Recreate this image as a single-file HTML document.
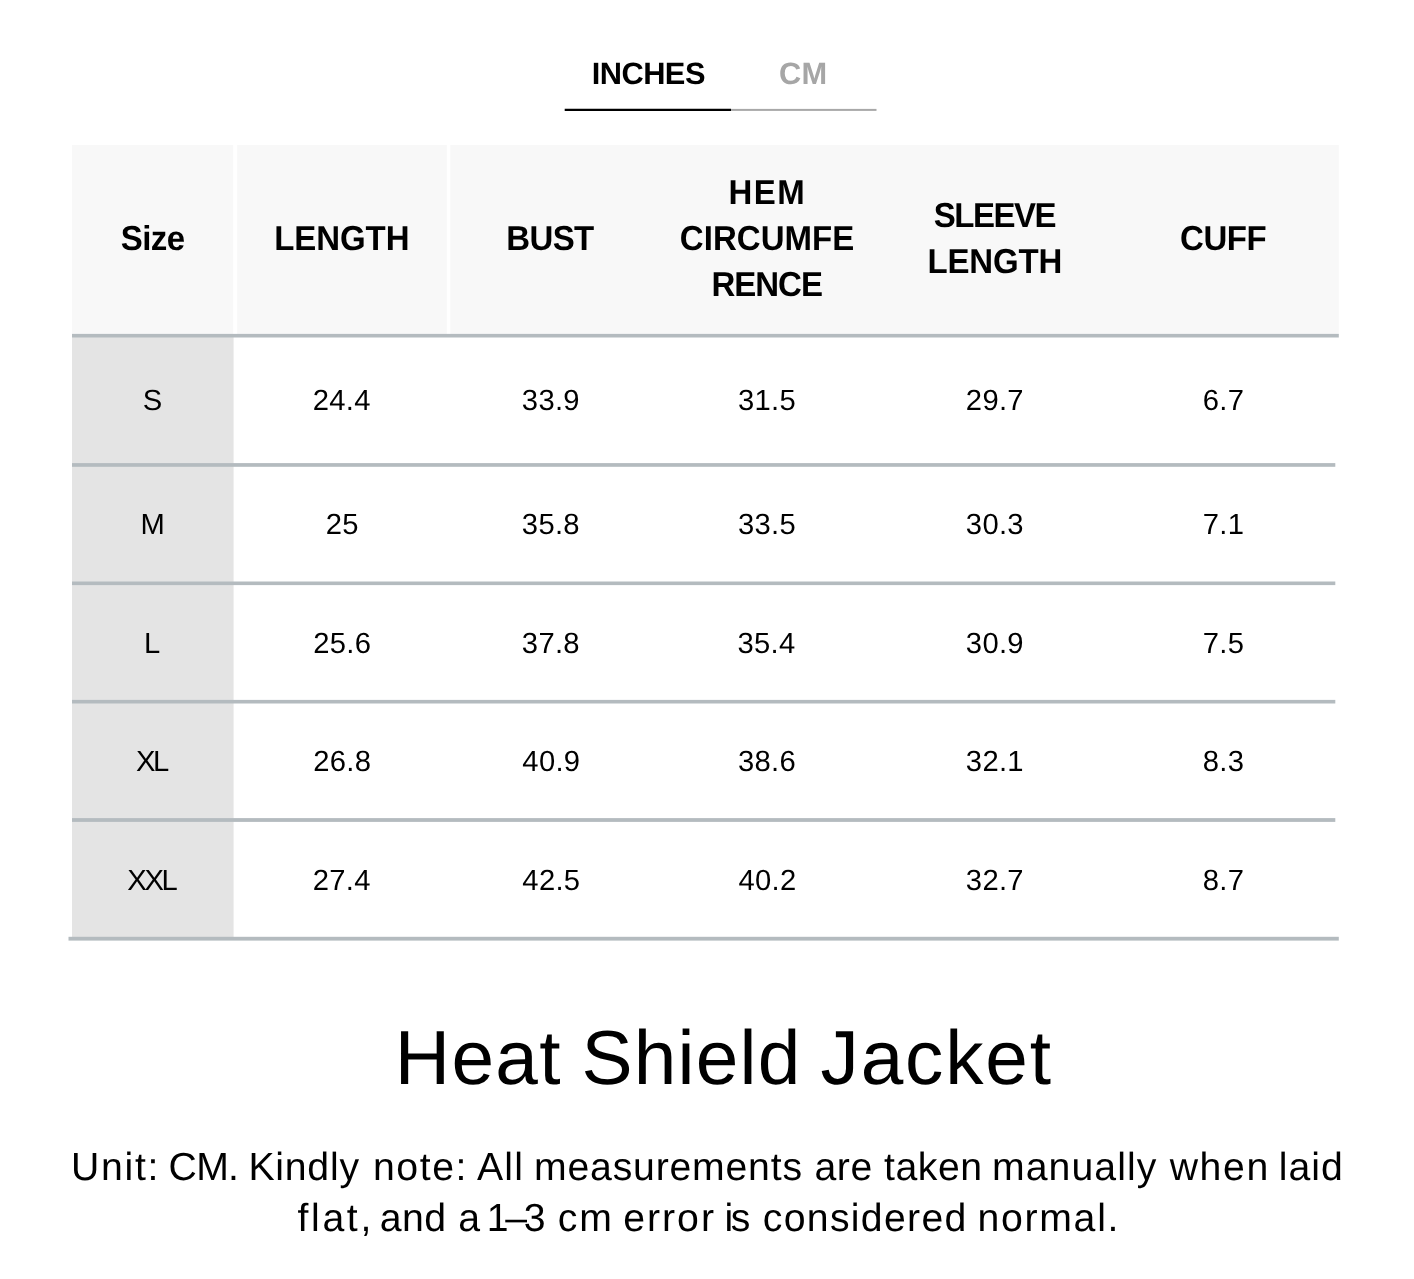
<!DOCTYPE html>
<html lang="en">
<head>
<meta charset="utf-8">
<title>Heat Shield Jacket – Size Chart</title>
<style>
html,body{margin:0;padding:0;background:#fff;}
h1,p{margin:0;padding:0;font:inherit;}
body{width:1414px;height:1279px;position:relative;overflow:hidden;font-family:"Liberation Sans",Arial,sans-serif;color:#000;}
.t{position:absolute;white-space:nowrap;line-height:1;font-weight:400;text-rendering:geometricPrecision;}
.b{font-weight:700;}
svg{position:absolute;left:0;top:0;}
</style>
</head>
<body>
<svg width="1414" height="1279" viewBox="0 0 1414 1279">
  <!-- tab underline -->
  <rect x="731" y="108.9" width="145.5" height="2" fill="#a8a8a8"/>
  <rect x="564.7" y="108.75" width="166.3" height="2.25" fill="#000"/>
  <!-- header background -->
  <rect x="72" y="145" width="1266.8" height="190" fill="#f8f8f8"/>
  <rect x="233.2" y="144" width="4" height="190" fill="#fff"/>
  <rect x="446.8" y="144" width="3.5" height="190" fill="#fff"/>
  <!-- size column -->
  <rect x="72" y="336" width="161.6" height="602" fill="#e4e4e4"/>
  <!-- rules -->
  <rect x="72" y="333.9" width="1266.8" height="3.6" fill="#b4bbbf"/>
  <rect x="72" y="463.1" width="1263.3" height="3.7" fill="#b4bbbf"/>
  <rect x="72" y="581.5" width="1263.3" height="3.6" fill="#b4bbbf"/>
  <rect x="72" y="699.9" width="1263.3" height="3.6" fill="#b4bbbf"/>
  <rect x="72" y="818.1" width="1263.3" height="3.8" fill="#b4bbbf"/>
  <rect x="68.5" y="936.8" width="1270.3" height="3.8" fill="#b4bbbf"/>
</svg>
<!-- unit tabs -->
<div class="tabs">
<div class="t b" style="left:591.70px;top:59px;font-size:30.8px;letter-spacing:-0.524px;">INCHES</div>
<div class="t b" style="left:779.00px;top:59px;font-size:30.8px;letter-spacing:0.359px;color:#a6a6a6;">CM</div>
</div>
<!-- table header -->
<div class="thead">
<div class="t b" style="left:120.80px;top:222px;font-size:33px;letter-spacing:-0.593px;transform:scaleY(1.048);transform-origin:0 28px;">Size</div>
<div class="t b" style="left:274.20px;top:222px;font-size:33px;letter-spacing:-0.065px;transform:scaleY(1.048);transform-origin:0 28px;">LENGTH</div>
<div class="t b" style="left:506.20px;top:222px;font-size:33px;letter-spacing:-0.591px;transform:scaleY(1.048);transform-origin:0 28px;">BUST</div>
<div class="t b" style="left:728.40px;top:176px;font-size:33px;letter-spacing:1.479px;transform:scaleY(1.048);transform-origin:0 28px;">HEM</div>
<div class="t b" style="left:679.80px;top:222px;font-size:33px;letter-spacing:0.051px;transform:scaleY(1.048);transform-origin:0 28px;">CIRCUMFE</div>
<div class="t b" style="left:711.50px;top:268px;font-size:33px;letter-spacing:-1.026px;transform:scaleY(1.048);transform-origin:0 28px;">RENCE</div>
<div class="t b" style="left:933.80px;top:199px;font-size:33px;letter-spacing:-1.480px;transform:scaleY(1.048);transform-origin:0 28px;">SLEEVE</div>
<div class="t b" style="left:927.40px;top:245px;font-size:33px;letter-spacing:-0.165px;transform:scaleY(1.048);transform-origin:0 28px;">LENGTH</div>
<div class="t b" style="left:1180.00px;top:222px;font-size:33px;letter-spacing:-0.407px;transform:scaleY(1.048);transform-origin:0 28px;">CUFF</div>
</div>
<!-- table body -->
<div class="tbody">
<div class="tr">
<div class="t" style="left:142.65px;top:387px;font-size:29.2px;">S</div>
<div class="t" style="left:312.76px;top:387px;font-size:29.2px;letter-spacing:0.300px;">24.4</div>
<div class="t" style="left:521.86px;top:387px;font-size:29.2px;letter-spacing:0.300px;">33.9</div>
<div class="t" style="left:738.06px;top:387px;font-size:29.2px;letter-spacing:0.300px;">31.5</div>
<div class="t" style="left:965.86px;top:387px;font-size:29.2px;letter-spacing:0.300px;">29.7</div>
<div class="t" style="left:1202.73px;top:387px;font-size:29.2px;letter-spacing:0.300px;">6.7</div>
</div>
<div class="tr">
<div class="t" style="left:140.50px;top:511px;font-size:29.2px;">M</div>
<div class="t" style="left:325.73px;top:511px;font-size:29.2px;letter-spacing:0.300px;">25</div>
<div class="t" style="left:521.86px;top:511px;font-size:29.2px;letter-spacing:0.300px;">35.8</div>
<div class="t" style="left:738.06px;top:511px;font-size:29.2px;letter-spacing:0.300px;">33.5</div>
<div class="t" style="left:965.86px;top:511px;font-size:29.2px;letter-spacing:0.300px;">30.3</div>
<div class="t" style="left:1202.73px;top:511px;font-size:29.2px;letter-spacing:0.300px;">7.1</div>
</div>
<div class="tr">
<div class="t" style="left:144.10px;top:630px;font-size:29.2px;">L</div>
<div class="t" style="left:313.26px;top:630px;font-size:29.2px;letter-spacing:0.300px;">25.6</div>
<div class="t" style="left:521.86px;top:630px;font-size:29.2px;letter-spacing:0.300px;">37.8</div>
<div class="t" style="left:737.56px;top:630px;font-size:29.2px;letter-spacing:0.300px;">35.4</div>
<div class="t" style="left:965.86px;top:630px;font-size:29.2px;letter-spacing:0.300px;">30.9</div>
<div class="t" style="left:1202.73px;top:630px;font-size:29.2px;letter-spacing:0.300px;">7.5</div>
</div>
<div class="tr">
<div class="t" style="left:136.10px;top:748px;font-size:29.2px;letter-spacing:-2.668px;">XL</div>
<div class="t" style="left:313.26px;top:748px;font-size:29.2px;letter-spacing:0.300px;">26.8</div>
<div class="t" style="left:522.36px;top:748px;font-size:29.2px;letter-spacing:0.300px;">40.9</div>
<div class="t" style="left:738.06px;top:748px;font-size:29.2px;letter-spacing:0.300px;">38.6</div>
<div class="t" style="left:965.86px;top:748px;font-size:29.2px;letter-spacing:0.300px;">32.1</div>
<div class="t" style="left:1202.73px;top:748px;font-size:29.2px;letter-spacing:0.300px;">8.3</div>
</div>
<div class="tr">
<div class="t" style="left:127.30px;top:867px;font-size:29.2px;letter-spacing:-2.318px;">XXL</div>
<div class="t" style="left:312.76px;top:867px;font-size:29.2px;letter-spacing:0.300px;">27.4</div>
<div class="t" style="left:522.36px;top:867px;font-size:29.2px;letter-spacing:0.300px;">42.5</div>
<div class="t" style="left:738.56px;top:867px;font-size:29.2px;letter-spacing:0.300px;">40.2</div>
<div class="t" style="left:965.86px;top:867px;font-size:29.2px;letter-spacing:0.300px;">32.7</div>
<div class="t" style="left:1202.73px;top:867px;font-size:29.2px;letter-spacing:0.300px;">8.7</div>
</div>
</div>
<!-- title -->
<h1>
<span class="t" style="left:394.80px;top:1021px;font-size:76.6px;letter-spacing:1.297px;">Heat</span>
<span class="t" style="left:581.50px;top:1021px;font-size:76.6px;letter-spacing:1.197px;">Shield</span>
<span class="t" style="left:820.50px;top:1021px;font-size:76.6px;letter-spacing:1.843px;">Jacket</span>
</h1>
<!-- note -->
<p>
<span class="t" style="left:71.10px;top:1148px;font-size:39.2px;letter-spacing:1.678px;">Unit:</span>
<span class="t" style="left:168.50px;top:1148px;font-size:39.2px;letter-spacing:-0.672px;">CM.</span>
<span class="t" style="left:248.40px;top:1148px;font-size:39.2px;letter-spacing:0.772px;">Kindly</span>
<span class="t" style="left:372.90px;top:1148px;font-size:39.2px;letter-spacing:1.607px;">note:</span>
<span class="t" style="left:476.90px;top:1148px;font-size:39.2px;letter-spacing:1.278px;">All</span>
<span class="t" style="left:534.00px;top:1148px;font-size:39.2px;letter-spacing:0.802px;">measurements</span>
<span class="t" style="left:814.40px;top:1148px;font-size:39.2px;letter-spacing:0.578px;">are</span>
<span class="t" style="left:884.00px;top:1148px;font-size:39.2px;letter-spacing:0.558px;">taken</span>
<span class="t" style="left:991.90px;top:1148px;font-size:39.2px;letter-spacing:1.095px;">manually</span>
<span class="t" style="left:1169.70px;top:1148px;font-size:39.2px;letter-spacing:1.637px;">when</span>
<span class="t" style="left:1278.80px;top:1148px;font-size:39.2px;letter-spacing:1.031px;">laid</span>
</p>
<p>
<span class="t" style="left:297.50px;top:1199px;font-size:39.2px;letter-spacing:2.656px;">flat,</span>
<span class="t" style="left:379.80px;top:1199px;font-size:39.2px;letter-spacing:0.456px;">and</span>
<span class="t" style="left:458.30px;top:1199px;font-size:39.2px;">a</span>
<span class="t" style="left:486.80px;top:1199px;font-size:39.2px;letter-spacing:-3.294px;">1–3</span>
<span class="t" style="left:557.80px;top:1199px;font-size:39.2px;letter-spacing:1.806px;">cm</span>
<span class="t" style="left:623.20px;top:1199px;font-size:39.2px;letter-spacing:2.003px;">error</span>
<span class="t" style="left:724.50px;top:1199px;font-size:39.2px;letter-spacing:-2.406px;">is</span>
<span class="t" style="left:762.80px;top:1199px;font-size:39.2px;letter-spacing:1.309px;">considered</span>
<span class="t" style="left:977.40px;top:1199px;font-size:39.2px;letter-spacing:1.736px;">normal.</span>
</p>
</body>
</html>
